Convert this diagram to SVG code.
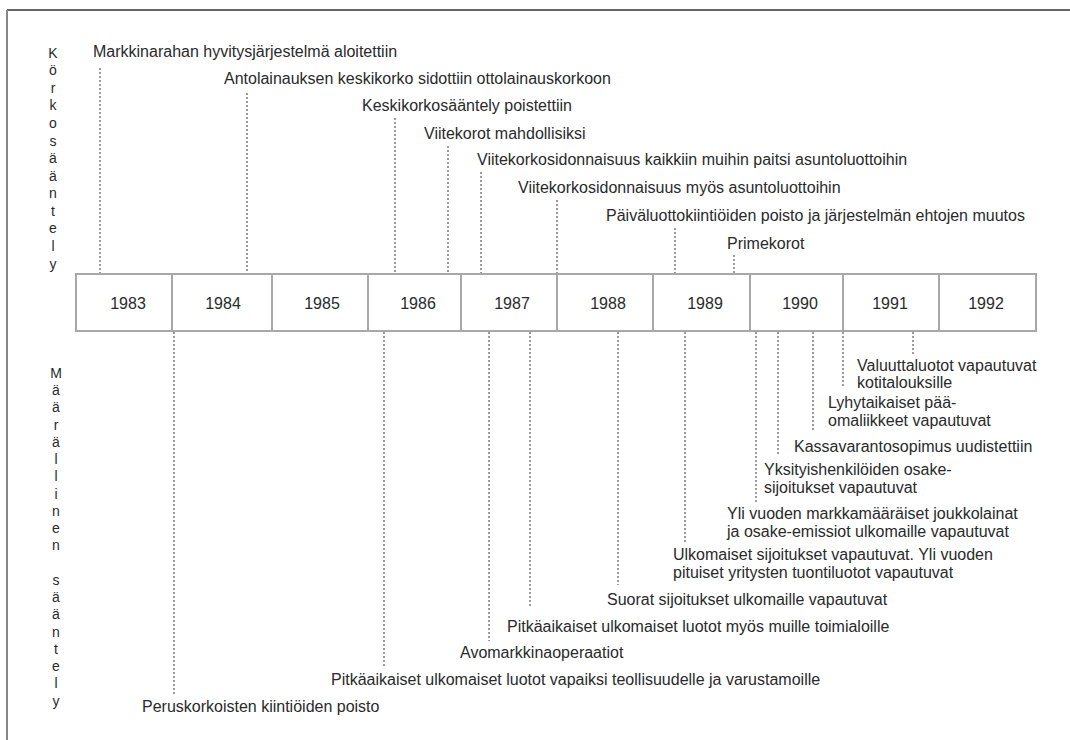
<svg xmlns="http://www.w3.org/2000/svg" width="1070" height="740" viewBox="0 0 1070 740">
<style>
text{font-family:"Liberation Sans",Arial,sans-serif;font-size:16px;fill:#2a2a2a}
.v{font-size:14px}
.yr{text-anchor:middle}
.dot{stroke:#5a5a5a;stroke-width:1.2;stroke-dasharray:2 2;fill:none}
.cell{fill:#fff;stroke:#a8a8a8;stroke-width:2}
</style>
<rect width="1070" height="740" fill="#fff"/>
<g id="frame">
<line x1="7" y1="10" x2="1070" y2="10" stroke="#333" stroke-width="1.6"/>
<line x1="7" y1="10" x2="7" y2="740" stroke="#888" stroke-width="2"/>
</g>
<g id="axis-top-label">
<text x="53" y="57.7" text-anchor="middle" class="v">K<tspan x="53" dy="17.57">ö</tspan><tspan x="53" dy="17.57">r</tspan><tspan x="53" dy="17.57">k</tspan><tspan x="53" dy="17.57">o</tspan><tspan x="53" dy="17.57">s</tspan><tspan x="53" dy="17.57">ä</tspan><tspan x="53" dy="17.57">ä</tspan><tspan x="53" dy="17.57">n</tspan><tspan x="53" dy="17.57">t</tspan><tspan x="53" dy="17.57">e</tspan><tspan x="53" dy="17.57">l</tspan><tspan x="53" dy="17.57">y</tspan></text>
</g>
<g id="axis-bottom-label">
<text x="56" y="378" text-anchor="middle" class="v">M<tspan x="56" dy="17.24">ä</tspan><tspan x="56" dy="17.24">ä</tspan><tspan x="56" dy="17.24">r</tspan><tspan x="56" dy="17.24">ä</tspan><tspan x="56" dy="17.24">l</tspan><tspan x="56" dy="17.24">l</tspan><tspan x="56" dy="17.24">i</tspan><tspan x="56" dy="17.24">n</tspan><tspan x="56" dy="17.24">e</tspan><tspan x="56" dy="17.24">n</tspan><tspan x="56" dy="34.48">s</tspan><tspan x="56" dy="17.24">ä</tspan><tspan x="56" dy="17.24">ä</tspan><tspan x="56" dy="17.24">n</tspan><tspan x="56" dy="17.24">t</tspan><tspan x="56" dy="17.24">e</tspan><tspan x="56" dy="17.24">l</tspan><tspan x="56" dy="17.24">y</tspan></text>
</g>
<g id="timeline">
<rect class="cell" x="76" y="274" width="96" height="57"/>
<rect class="cell" x="172" y="274" width="100" height="57"/>
<rect class="cell" x="272" y="274" width="96" height="57"/>
<rect class="cell" x="368" y="274" width="93" height="57"/>
<rect class="cell" x="461" y="274" width="96" height="57"/>
<rect class="cell" x="557" y="274" width="96" height="57"/>
<rect class="cell" x="653" y="274" width="97" height="57"/>
<rect class="cell" x="750" y="274" width="93" height="57"/>
<rect class="cell" x="843" y="274" width="96" height="57"/>
<rect class="cell" x="939" y="274" width="97" height="57"/>
</g>
<g id="y1983"><text class="yr" x="128" y="309">1983</text></g>
<g id="y1984"><text class="yr" x="223" y="309">1984</text></g>
<g id="y1985"><text class="yr" x="322" y="309">1985</text></g>
<g id="y1986"><text class="yr" x="418" y="309">1986</text></g>
<g id="y1987"><text class="yr" x="512" y="309">1987</text></g>
<g id="y1988"><text class="yr" x="608" y="309">1988</text></g>
<g id="y1989"><text class="yr" x="705" y="309">1989</text></g>
<g id="y1990"><text class="yr" x="800" y="309">1990</text></g>
<g id="y1991"><text class="yr" x="890" y="309">1991</text></g>
<g id="y1992"><text class="yr" x="986" y="309">1992</text></g>
<g id="connectors">
<line class="dot" x1="100" y1="68" x2="100" y2="273"/>
<line class="dot" x1="247" y1="93" x2="247" y2="273"/>
<line class="dot" x1="395" y1="118" x2="395" y2="273"/>
<line class="dot" x1="448" y1="146" x2="448" y2="273"/>
<line class="dot" x1="481" y1="172" x2="481" y2="273"/>
<line class="dot" x1="557" y1="200" x2="557" y2="273"/>
<line class="dot" x1="675" y1="228" x2="675" y2="273"/>
<line class="dot" x1="734" y1="255" x2="734" y2="273"/>
<line class="dot" x1="174" y1="332" x2="174" y2="695"/>
<line class="dot" x1="384" y1="332" x2="384" y2="668"/>
<line class="dot" x1="489" y1="332" x2="489" y2="641"/>
<line class="dot" x1="530" y1="332" x2="530" y2="608"/>
<line class="dot" x1="618" y1="332" x2="618" y2="585"/>
<line class="dot" x1="685" y1="332" x2="685" y2="543"/>
<line class="dot" x1="756" y1="332" x2="756" y2="502"/>
<line class="dot" x1="778" y1="332" x2="778" y2="455"/>
<line class="dot" x1="813" y1="332" x2="813" y2="432"/>
<line class="dot" x1="843" y1="332" x2="843" y2="388"/>
<line class="dot" x1="913" y1="332" x2="913" y2="356"/>
</g>
<g id="t1"><text x="93" y="57">Markkinarahan hyvitysjärjestelmä aloitettiin</text></g>
<g id="t2"><text x="224" y="84">Antolainauksen keskikorko sidottiin ottolainauskorkoon</text></g>
<g id="t3"><text x="362" y="111">Keskikorkosääntely poistettiin</text></g>
<g id="t4"><text x="424" y="139">Viitekorot mahdollisiksi</text></g>
<g id="t5"><text x="477" y="165">Viitekorkosidonnaisuus kaikkiin muihin paitsi asuntoluottoihin</text></g>
<g id="t6"><text x="518" y="193">Viitekorkosidonnaisuus myös asuntoluottoihin</text></g>
<g id="t7"><text x="606" y="221">Päiväluottokiintiöiden poisto ja järjestelmän ehtojen muutos</text></g>
<g id="t8"><text x="727" y="249">Primekorot</text></g>
<g id="b1"><text x="857" y="371">Valuuttaluotot vapautuvat<tspan x="857" dy="17">kotitalouksille</tspan></text></g>
<g id="b2"><text x="828" y="408">Lyhytaikaiset pää-<tspan x="828" dy="17.5">omaliikkeet vapautuvat</tspan></text></g>
<g id="b3"><text x="794" y="452">Kassavarantosopimus uudistettiin</text></g>
<g id="b4"><text x="764" y="475">Yksityishenkilöiden osake-<tspan x="764" dy="18">sijoitukset vapautuvat</tspan></text></g>
<g id="b5"><text x="727" y="519">Yli vuoden markkamääräiset joukkolainat<tspan x="727" dy="18">ja osake-emissiot ulkomaille vapautuvat</tspan></text></g>
<g id="b6"><text x="673" y="560">Ulkomaiset sijoitukset vapautuvat. Yli vuoden<tspan x="673" dy="17.5">pituiset yritysten tuontiluotot vapautuvat</tspan></text></g>
<g id="b7"><text x="607" y="605">Suorat sijoitukset ulkomaille vapautuvat</text></g>
<g id="b8"><text x="507" y="632">Pitkäaikaiset ulkomaiset luotot myös muille toimialoille</text></g>
<g id="b9"><text x="460" y="658">Avomarkkinaoperaatiot</text></g>
<g id="b10"><text x="331" y="685">Pitkäaikaiset ulkomaiset luotot vapaiksi teollisuudelle ja varustamoille</text></g>
<g id="b11"><text x="142" y="712">Peruskorkoisten kiintiöiden poisto</text></g>
</svg>
